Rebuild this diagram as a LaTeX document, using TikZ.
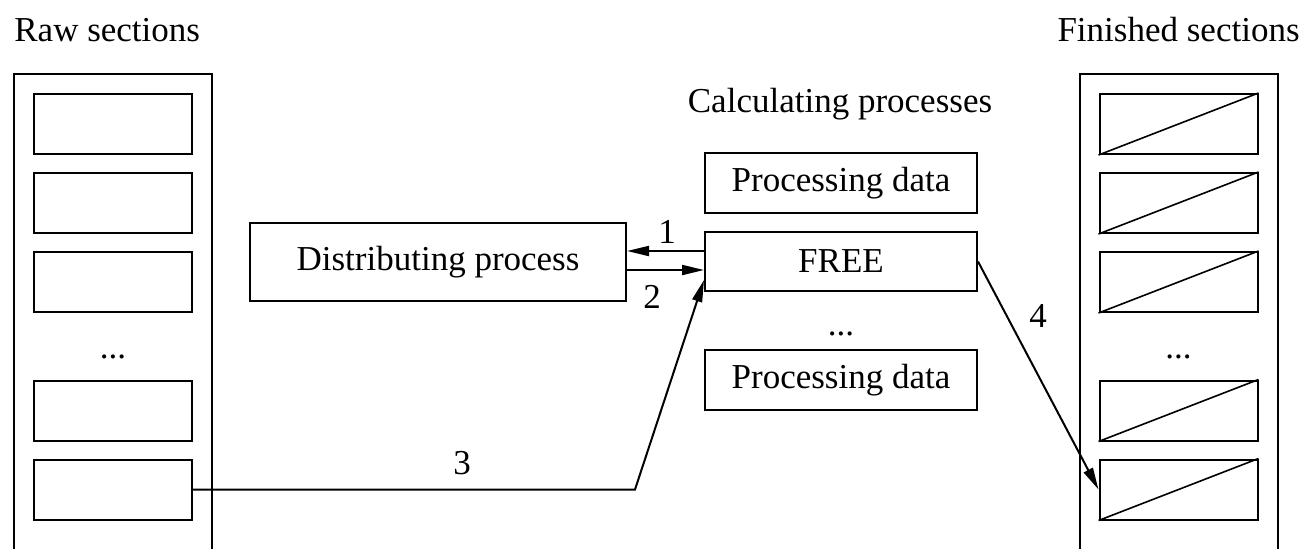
\documentclass[tikz,border=0pt]{standalone}
\usepackage{fontspec}
\setmainfont{Liberation Serif}
\usetikzlibrary{arrows.meta,calc}
\begin{document}
\begin{tikzpicture}[x=0.5pt,y=-0.5pt,
  every node/.style={font=\fontsize{17.5}{20}\selectfont},
  box/.style={draw,line width=1pt,inner sep=0pt},
  sec/.style={box,minimum width=79pt,minimum height=30pt},
  lbl/.style={inner sep=0pt},
  arr/.style={line width=1pt,-{Triangle[length=11pt,width=5pt]}},
  ln/.style={line width=1pt}]
\useasboundingbox (0,0) rectangle (1306,548);
% titles
\node[lbl,anchor=west] (rawt) at (14,30) {Raw sections};
\node[lbl,anchor=east] (fint) at (1300,30) {Finished sections};
\node[lbl] (calct) at (840,104) {Calculating processes};
% outer columns
\draw[ln] (14,552) -- (14,74) -- (212,74) -- (212,552);
\draw[ln] (1080,552) -- (1080,74) -- (1278,74) -- (1278,552);
% sections
\foreach \i/\y in {1/124,2/203,3/282,4/410.5,5/489.5}{
  \node[sec] (raw\i) at (113,\y) {};
  \node[sec] (fin\i) at (1178.5,\y) {};
  \draw[line width=0.8pt] (fin\i.south west) -- (fin\i.north east);
}
\node[lbl] (rawdots) at (113,357) {...};
\node[lbl] (findots) at (1178.5,357) {...};
% processes
\node[box,minimum width=188pt,minimum height=39pt] (dist) at (438,262) {Distributing process};
\node[box,minimum width=136pt,minimum height=30pt] (proc1) at (841,183) {Processing data};
\node[box,minimum width=136pt,minimum height=29.5pt] (free) at (841,261.5) {FREE};
\node[lbl] (pdots) at (841,334) {...};
\node[box,minimum width=136pt,minimum height=30pt] (proc2) at (841,380) {Processing data};
% arrows
\draw[arr] ($(free.west)+(0,-10.5)$) -- ($(dist.east)+(0,-11)$);
\draw[arr] ($(dist.east)+(0,8)$) -- ($(free.west)+(0,8.5)$);
\node[lbl] (l1) at (667,232) {1};
\node[lbl] (l2) at (652,297) {2};
\coordinate (bend) at (635,489.5);
\draw[arr] (raw5.east) -- (bend) -- ($(free.west)+(0,18.5)$);
\node[lbl] (l3) at (462,463) {3};
\draw[arr] (free.east) -- (fin5.west);
\node[lbl] (l4) at (1038,316) {4};
\end{tikzpicture}
\end{document}
